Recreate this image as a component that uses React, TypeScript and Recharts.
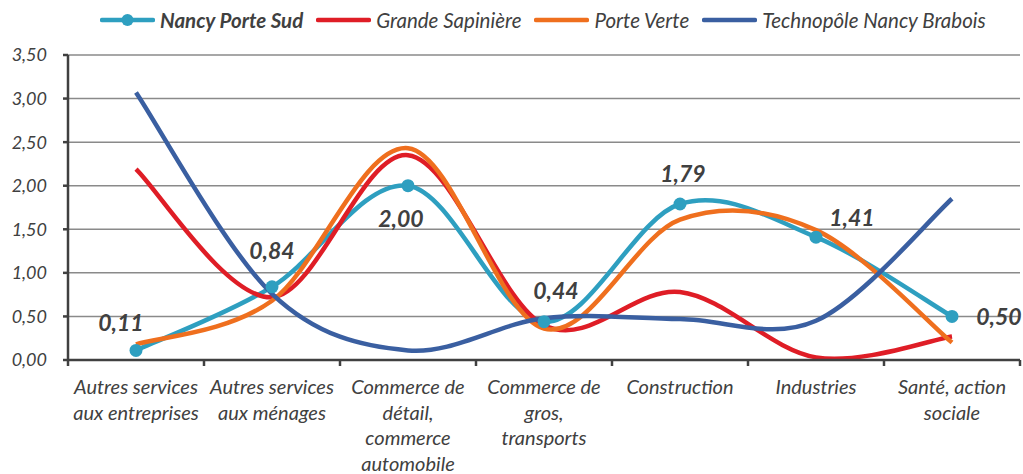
import React from 'react';
import { LineChart, Line, XAxis, YAxis, CartesianGrid, LabelList } from 'recharts';

const categories = [
  'Autres services aux entreprises',
  'Autres services aux ménages',
  'Commerce de détail, commerce automobile',
  'Commerce de gros, transports',
  'Construction',
  'Industries',
  'Santé, action sociale',
];

// wrapped tick labels, as in the original
const categoryLines = [
  ['Autres services', 'aux entreprises'],
  ['Autres services', 'aux ménages'],
  ['Commerce de', 'détail,', 'commerce', 'automobile'],
  ['Commerce de', 'gros,', 'transports'],
  ['Construction'],
  ['Industries'],
  ['Santé, action', 'sociale'],
];

const nancyPorteSud = [0.11, 0.84, 2.0, 0.44, 1.79, 1.41, 0.5];
const grandeSapiniere = [2.19, 0.72, 2.35, 0.4, 0.78, 0.03, 0.27];
const porteVerte = [0.18, 0.68, 2.43, 0.36, 1.61, 1.49, 0.2];
const technopole = [3.07, 0.76, 0.11, 0.48, 0.47, 0.45, 1.85];

const yTicks = [0, 0.5, 1, 1.5, 2, 2.5, 3, 3.5];

const seriesNames = ['Nancy Porte Sud', 'Grande Sapinière', 'Porte Verte', 'Technopôle Nancy Brabois'];

const TEAL = '#2E9FC0';
const RED = '#DF1D26';
const ORANGE = '#EF6F1E';
const BLUE = '#3A5FA1';
const TEXT = '#404040';
const FONT = 'Lato, "Open Sans", sans-serif';

const data = categories.map((c, i) => ({
  name: c,
  nancy: nancyPorteSud[i],
  grande: grandeSapiniere[i],
  verte: porteVerte[i],
  techno: technopole[i],
}));

const fmt = (v: number) => v.toFixed(2).replace('.', ',');

// smoothing like the spreadsheet: cardinal bezier with 1/6 neighbour tangents
function excelSmooth(context: any) {
  let pts: [number, number][] = [];
  return {
    areaStart() {},
    areaEnd() {},
    lineStart() {
      pts = [];
    },
    point(x: number, y: number) {
      pts.push([+x, +y]);
    },
    lineEnd() {
      const n = pts.length;
      if (!n) return;
      context.moveTo(pts[0][0], pts[0][1]);
      for (let i = 0; i < n - 1; i++) {
        const p0 = pts[i > 0 ? i - 1 : i];
        const p1 = pts[i];
        const p2 = pts[i + 1];
        const p3 = pts[i + 2 < n ? i + 2 : i + 1];
        context.bezierCurveTo(
          p1[0] + (p2[0] - p0[0]) / 6,
          p1[1] + (p2[1] - p0[1]) / 6,
          p2[0] - (p3[0] - p1[0]) / 6,
          p2[1] - (p3[1] - p1[1]) / 6,
          p2[0],
          p2[1]
        );
      }
    },
  };
}

const STEP = 136;

function CategoryTick(props: any) {
  const { x, y, index } = props;
  const lines = categoryLines[index] || [];
  return (
    <g>
      <line x1={x - STEP / 2} y1={y} x2={x - STEP / 2} y2={y + 6} stroke={TEXT} strokeWidth={2.5} />
      {index === categories.length - 1 && (
        <line x1={x + STEP / 2} y1={y} x2={x + STEP / 2} y2={y + 6} stroke={TEXT} strokeWidth={2.5} />
      )}
      {lines.map((l, i) => (
        <text
          key={i}
          x={x}
          y={y + 26 + i * 25.5}
          textAnchor="middle"
          dominantBaseline="central"
          fontFamily={FONT}
          fontStyle="italic"
          fontSize={20}
          fill={TEXT}
        >
          {l}
        </text>
      ))}
    </g>
  );
}

// label offsets relative to each point
const labelShift = [
  [-15, -28],
  [0, -37],
  [-7, 32],
  [12, -32],
  [3, -31],
  [36, -20],
  [47, 0],
];

function renderLabel(props: any) {
  const { x, y, value, index } = props;
  const [dx, dy] = labelShift[index] || [0, 0];
  return (
    <text
      x={x + dx}
      y={y + dy}
      textAnchor="middle"
      dominantBaseline="central"
      fontFamily={FONT}
      fontStyle="italic"
      fontWeight="bold"
      fontSize={23}
      fill={TEXT}
    >
      {fmt(value)}
    </text>
  );
}

function LegendBar() {
  const colors = [TEAL, RED, ORANGE, BLUE];
  return (
    <div
      style={{
        position: 'absolute',
        left: 100,
        top: 8,
        height: 24,
        display: 'flex',
        alignItems: 'center',
        gap: 13,
        fontFamily: FONT,
        fontStyle: 'italic',
        fontSize: 20.5,
        color: TEXT,
        whiteSpace: 'nowrap',
      }}
    >
      {seriesNames.map((s, i) => (
        <div key={s} style={{ display: 'flex', alignItems: 'center' }}>
          <svg width={55} height={14} style={{ marginRight: 5 }}>
            <line x1={2} y1={7} x2={53} y2={7} stroke={colors[i]} strokeWidth={4.5} strokeLinecap="round" />
            {i === 0 && <circle cx={27.5} cy={7} r={6} fill={colors[i]} />}
          </svg>
          <span style={{ fontWeight: i === 0 ? 'bold' : 'normal' }}>{s}</span>
        </div>
      ))}
    </div>
  );
}

export default function App() {
  return (
    <div style={{ position: 'absolute', left: 0, top: 0, width: 1023, height: 474, background: '#fff' }}>
      <LineChart width={1023} height={474} data={data} margin={{ top: 55, right: 3, left: 0, bottom: 0 }}>
        <CartesianGrid vertical={false} stroke="#8a8a8a" strokeWidth={1.5} />
        <XAxis
          dataKey="name"
          height={114}
          padding={{ left: 68, right: 68 }}
          tickLine={false}
          tickSize={0}
          tickMargin={0}
          interval={0}
          axisLine={{ stroke: TEXT, strokeWidth: 2.5 }}
          tick={<CategoryTick />}
        />
        <YAxis
          width={68}
          domain={[0, 3.5]}
          ticks={yTicks}
          interval={0}
          tickFormatter={fmt}
          tickSize={5}
          tickMargin={16}
          axisLine={{ stroke: TEXT, strokeWidth: 2.5 }}
          tickLine={{ stroke: TEXT, strokeWidth: 2.5 }}
          tick={{ fill: TEXT, fontFamily: FONT, fontStyle: 'italic', fontSize: 18 }}
        />
        <Line
          dataKey="nancy"
          name={seriesNames[0]}
          type={excelSmooth as any}
          stroke={TEAL}
          strokeWidth={4.5}
          dot={{ r: 6.5, fill: TEAL, stroke: TEAL, strokeWidth: 0 }}
          isAnimationActive={false}
        >
          <LabelList dataKey="nancy" content={renderLabel} />
        </Line>
        <Line
          dataKey="grande"
          name={seriesNames[1]}
          type={excelSmooth as any}
          stroke={RED}
          strokeWidth={4.5}
          dot={false}
          isAnimationActive={false}
        />
        <Line
          dataKey="verte"
          name={seriesNames[2]}
          type={excelSmooth as any}
          stroke={ORANGE}
          strokeWidth={4.5}
          dot={false}
          isAnimationActive={false}
        />
        <Line
          dataKey="techno"
          name={seriesNames[3]}
          type={excelSmooth as any}
          stroke={BLUE}
          strokeWidth={4.5}
          dot={false}
          isAnimationActive={false}
        />
      </LineChart>
      <LegendBar />
    </div>
  );
}
